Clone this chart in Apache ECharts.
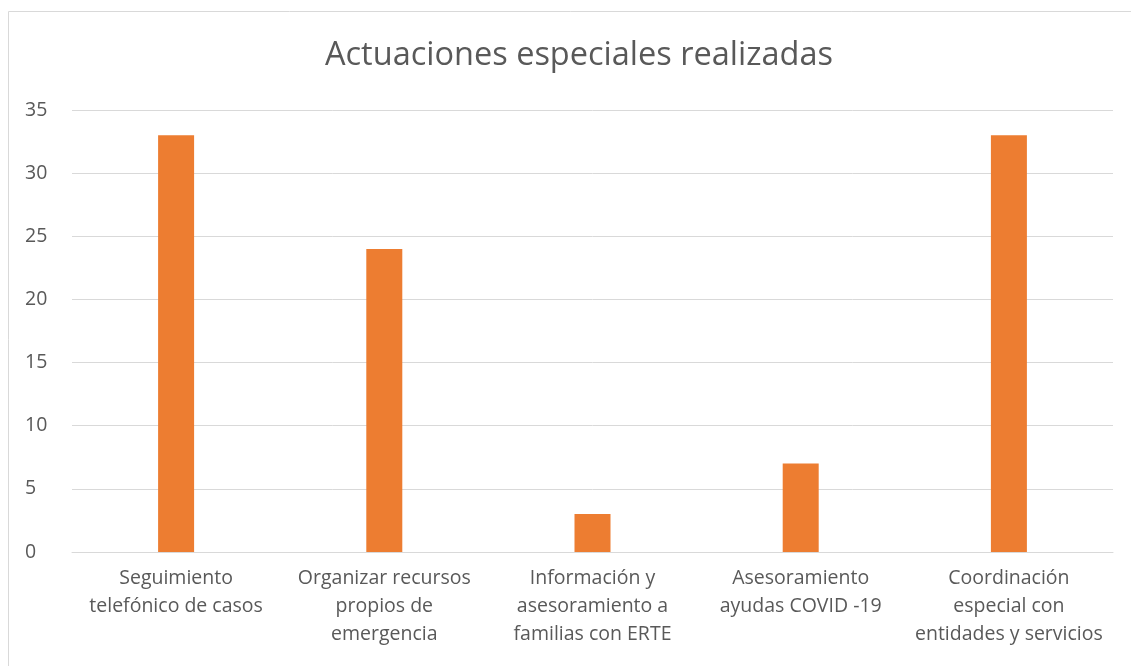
<!DOCTYPE html>
<html>
<head>
<meta charset="utf-8">
<style>
  html, body { margin: 0; padding: 0; background: #fff; }
  #chart-container { width: 1131px; height: 666px; }
</style>
</head>
<body>
<div id="chart-container"></div>
<script src="https://fastly.jsdelivr.net/npm/echarts@6.0.0/dist/echarts.min.js"></script>
<script type="text/javascript">
// categories and values
var categories = [
    'Seguimiento\ntelefónico de casos',
    'Organizar recursos\npropios de\nemergencia',
    'Información y\nasesoramiento a\nfamilias con ERTE',
    'Asesoramiento\nayudas COVID -19',
    'Coordinación\nespecial con\nentidades y servicios'
];
var values = [33, 24, 3, 7, 33];
var yTicks = [0, 5, 10, 15, 20, 25, 30, 35];

var textColor = '#595959';
var fontName = 'Open Sans';

var dom = document.getElementById('chart-container');
var myChart = echarts.init(dom, null, { renderer: 'canvas' });

var option = {
    animation: false,
    textStyle: { fontFamily: fontName },
    title: {
        text: 'Actuaciones especiales realizadas',
        left: 320,
        top: 34,
        textStyle: { color: textColor, fontSize: 32.5, fontWeight: 'normal', fontFamily: fontName }
    },
    graphic: [{
        type: 'rect',
        shape: { x: 8.5, y: 11.5, width: 1200, height: 700 },
        style: { fill: 'none', stroke: '#d9d9d9', lineWidth: 1 },
        silent: true
    }],
    grid: { left: 72, right: 18, top: 110, bottom: 114, containLabel: false },
    xAxis: {
        type: 'category',
        data: categories,
        axisLine: { lineStyle: { color: '#d9d9d9', width: 1 } },
        axisTick: { show: false },
        axisLabel: { color: textColor, fontSize: 19.5, lineHeight: 28, margin: 12, interval: 0 }
    },
    yAxis: {
        type: 'value',
        min: yTicks[0],
        max: yTicks[yTicks.length - 1],
        interval: 5,
        axisLine: { show: false },
        axisTick: { show: false },
        splitLine: { lineStyle: { color: '#d9d9d9', width: 1 } },
        axisLabel: { color: textColor, fontSize: 19.5, margin: 47, align: 'left' }
    },
    series: [{
        type: 'bar',
        data: values,
        barWidth: 36,
        itemStyle: { color: '#ed7d31' }
    }]
};

myChart.setOption(option);
window.addEventListener('resize', myChart.resize);
</script>
</body>
</html>
